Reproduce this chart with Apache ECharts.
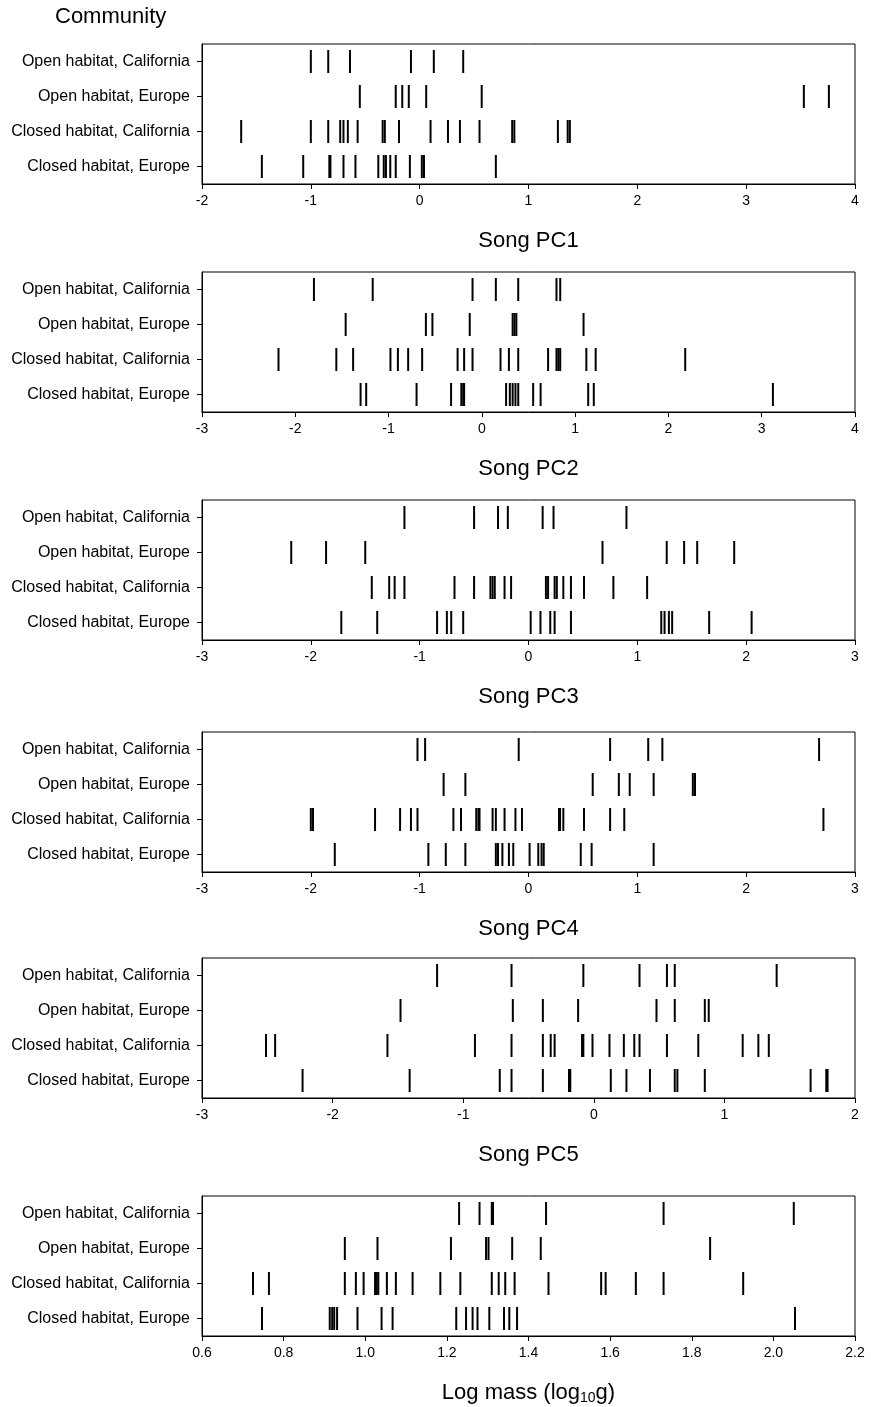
<!DOCTYPE html>
<html>
<head>
<meta charset="utf-8">
<script src="https://cdn.jsdelivr.net/npm/echarts@6/dist/echarts.min.js"></script>
<style>
html,body{margin:0;padding:0;background:#fff;}
#chart{width:871px;height:1407px;}
</style>
</head>
<body>
<div id="chart"></div>
<script>
// Categories (top to bottom)
const categories = ["Open habitat, California", "Open habitat, Europe", "Closed habitat, California", "Closed habitat, Europe"];
const axisTitles = ["Song PC1", "Song PC2", "Song PC3", "Song PC4", "Song PC5", "Log mass (log{sub|10}g)"];
const axisMin = [-2, -3, -3, -3, -3, 0.6];
const axisMax = [4, 4, 3, 3, 2, 2.2];
const axisStep = [1, 1, 1, 1, 1, 0.2];

// Song PC1
const pc1_openCA = [-1.00, -0.84, -0.64, -0.08, 0.13, 0.40];
const pc1_openEU = [-0.55, -0.22, -0.16, -0.10, 0.06, 0.57, 3.53, 3.76];
const pc1_closedCA = [-1.64, -1.00, -0.84, -0.73, -0.70, -0.66, -0.57, -0.34, -0.32, -0.19, 0.10, 0.26, 0.37, 0.55, 0.85, 0.87, 1.27, 1.36, 1.38];
const pc1_closedEU = [-1.45, -1.07, -0.83, -0.82, -0.70, -0.59, -0.38, -0.33, -0.31, -0.27, -0.22, -0.09, 0.02, 0.04, 0.70];

// Song PC2
const pc2_openCA = [-1.80, -1.17, -0.10, 0.15, 0.39, 0.80, 0.84];
const pc2_openEU = [-1.46, -0.60, -0.53, -0.13, 0.33, 0.35, 0.37, 1.09];
const pc2_closedCA = [-2.18, -1.56, -1.38, -0.98, -0.90, -0.79, -0.64, -0.26, -0.19, -0.10, 0.20, 0.29, 0.39, 0.71, 0.80, 0.82, 0.84, 1.12, 1.22, 2.18];
const pc2_closedEU = [-1.30, -1.24, -0.70, -0.33, -0.22, -0.20, -0.19, 0.26, 0.30, 0.33, 0.36, 0.39, 0.55, 0.63, 1.14, 1.20, 3.12];

// Song PC3
const pc3_openCA = [-1.14, -0.50, -0.28, -0.19, 0.13, 0.23, 0.90];
const pc3_openEU = [-2.18, -1.86, -1.50, 0.68, 1.27, 1.43, 1.55, 1.89];
const pc3_closedCA = [-1.44, -1.28, -1.23, -1.14, -0.68, -0.50, -0.35, -0.33, -0.31, -0.22, -0.16, 0.16, 0.18, 0.24, 0.26, 0.32, 0.39, 0.51, 0.78, 1.09];
const pc3_closedEU = [-1.72, -1.39, -0.84, -0.75, -0.71, -0.60, 0.02, 0.11, 0.20, 0.24, 0.39, 1.22, 1.25, 1.29, 1.32, 1.66, 2.05];

// Song PC4
const pc4_openCA = [-1.02, -0.95, -0.09, 0.75, 1.10, 1.23, 2.67];
const pc4_openEU = [-0.78, -0.58, 0.59, 0.83, 0.93, 1.15, 1.51, 1.53];
const pc4_closedCA = [-2.00, -1.98, -1.41, -1.18, -1.08, -1.02, -0.69, -0.62, -0.48, -0.46, -0.45, -0.33, -0.30, -0.22, -0.12, -0.06, 0.28, 0.29, 0.32, 0.51, 0.75, 0.88, 2.71];
const pc4_closedEU = [-1.78, -0.92, -0.76, -0.58, -0.30, -0.28, -0.24, -0.18, -0.14, 0.01, 0.09, 0.12, 0.14, 0.48, 0.58, 1.15];

// Song PC5
const pc5_openCA = [-1.20, -0.63, -0.08, 0.35, 0.56, 0.62, 1.40];
const pc5_openEU = [-1.48, -0.62, -0.39, -0.12, 0.48, 0.62, 0.85, 0.88];
const pc5_closedCA = [-2.51, -2.44, -1.58, -0.91, -0.63, -0.39, -0.33, -0.30, -0.09, -0.08, -0.01, 0.12, 0.23, 0.31, 0.35, 0.56, 0.80, 1.14, 1.26, 1.34];
const pc5_closedEU = [-2.23, -1.41, -0.72, -0.63, -0.39, -0.19, -0.18, 0.13, 0.25, 0.43, 0.62, 0.64, 0.85, 1.66, 1.78, 1.79];

// Log mass
const mass_openCA = [1.23, 1.28, 1.31, 1.313, 1.443, 1.731, 2.05];
const mass_openEU = [0.95, 1.03, 1.21, 1.296, 1.302, 1.36, 1.43, 1.845];
const mass_closedCA = [0.725, 0.764, 0.95, 0.977, 0.996, 1.024, 1.028, 1.032, 1.053, 1.075, 1.116, 1.184, 1.233, 1.31, 1.327, 1.343, 1.366, 1.449, 1.578, 1.589, 1.663, 1.731, 1.926];
const mass_closedEU = [0.747, 0.913, 0.919, 0.924, 0.931, 0.981, 1.04, 1.067, 1.223, 1.247, 1.263, 1.275, 1.304, 1.34, 1.353, 1.372, 2.053];

const panels = [
  [pc1_openCA, pc1_openEU, pc1_closedCA, pc1_closedEU],
  [pc2_openCA, pc2_openEU, pc2_closedCA, pc2_closedEU],
  [pc3_openCA, pc3_openEU, pc3_closedCA, pc3_closedEU],
  [pc4_openCA, pc4_openEU, pc4_closedCA, pc4_closedEU],
  [pc5_openCA, pc5_openEU, pc5_closedCA, pc5_closedEU],
  [mass_openCA, mass_openEU, mass_closedCA, mass_closedEU]
];

const tops = [44, 272, 500, 732, 958, 1196];
const FONT = "Liberation Sans";
const grid = [], xAxis = [], yAxis = [], series = [];
panels.forEach((rows, i) => {
  grid.push({left: 202, right: 16, top: tops[i], height: 140, show: true, borderColor: '#000', borderWidth: 1, backgroundColor: 'transparent'});
  const isMass = i === 5;
  xAxis.push({
    type: 'value', gridIndex: i, min: axisMin[i], max: axisMax[i], interval: axisStep[i],
    axisLine: {show: true, onZero: false, lineStyle: {color: '#000', width: 1}},
    axisTick: {show: true, inside: false, length: 5, lineStyle: {color: '#000'}},
    splitLine: {show: false},
    axisLabel: {show: true, margin: 10, color: '#000', fontFamily: FONT, fontSize: 14,
      formatter: isMass ? (v => v.toFixed(1)) : (v => String(Math.round(v)))},
    name: axisTitles[i], nameLocation: 'middle', nameGap: isMass ? 45 : 46,
    nameTextStyle: {color: '#000', fontFamily: FONT, fontSize: 22,
      rich: {sub: {fontSize: 14, fontFamily: FONT, color: '#000', padding: [10, 0, 0, 0]}}}
  });
  yAxis.push({
    type: 'category', gridIndex: i, data: categories, inverse: true,
    axisLine: {show: true, onZero: false, lineStyle: {color: '#000'}},
    axisTick: {show: true, inside: false, length: 5, alignWithLabel: true, lineStyle: {color: '#000'}},
    splitLine: {show: false},
    axisLabel: {margin: 12, color: '#000', fontFamily: FONT, fontSize: 16}
  });
  const data = [];
  rows.forEach((vals, r) => vals.forEach(v => data.push([v, r])));
  series.push({
    type: 'scatter', xAxisIndex: i, yAxisIndex: i, data: data,
    symbol: 'rect', symbolSize: [2, 23], silent: true,
    itemStyle: {color: '#000', opacity: 1}
  });
});

const chart = echarts.init(document.getElementById('chart'), null, {renderer: 'canvas'});
chart.setOption({
  animation: false,
  backgroundColor: '#fff',
  title: {text: 'Community', left: 50, top: 1, textStyle: {fontFamily: FONT, fontSize: 22, fontWeight: 'normal', color: '#000'}},
  grid, xAxis, yAxis, series
});
</script>
</body>
</html>
